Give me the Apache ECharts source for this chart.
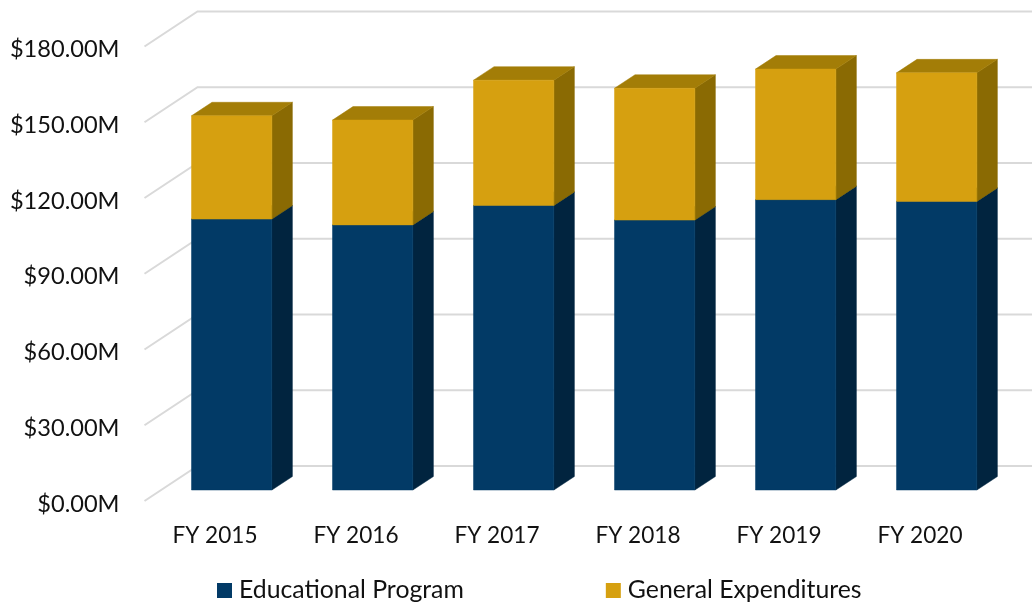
<!DOCTYPE html>
<html>
<head>
<meta charset="utf-8">
<style>
  html, body { margin: 0; padding: 0; background: #fff; }
  #chart { width: 1032px; height: 605px; }
</style>
<script src="https://cdn.jsdelivr.net/npm/echarts@6/dist/echarts.min.js"></script>
</head>
<body>
<div id="chart"></div>
<script>
const categories = ["FY 2015", "FY 2016", "FY 2017", "FY 2018", "FY 2019", "FY 2020"];
const educational = [107.3, 105.0, 112.7, 106.9, 115.0, 114.3];
const general = [40.9, 41.5, 49.6, 52.2, 51.7, 50.9];
const ticks = [0, 30, 60, 90, 120, 150, 180];

// fake 3d: how far the back wall and the bars sit behind the axis plane
const wallDx = 53, wallDy = 35;
const barDx = 16.7, barDy = 11;
const depthDx = 20.5, depthDy = 13.5;
const barRatio = 0.57;

function face(points, color) {
  return { type: "polygon", shape: { points: points }, style: { fill: color, stroke: color, lineWidth: 0.5 } };
}

function barItem(front, side, top) {
  return function (params, api) {
    let a = api.coord([api.value(0), api.value(1)]);
    let b = api.coord([api.value(0), api.value(2)]);
    let w = api.size([1, 0])[0] * barRatio;
    let x0 = a[0] - w / 2 + barDx, x1 = x0 + w;
    let y0 = a[1] - barDy, y1 = b[1] - barDy;
    return {
      type: "group",
      children: [
        face([[x1, y0], [x1 + depthDx, y0 - depthDy], [x1 + depthDx, y1 - depthDy], [x1, y1]], side),
        face([[x0, y1], [x1, y1], [x1 + depthDx, y1 - depthDy], [x0 + depthDx, y1 - depthDy]], top),
        face([[x0, y0], [x1, y0], [x1, y1], [x0, y1]], front)
      ]
    };
  };
}

function wallItem(params, api) {
  let p = api.coord([0, api.value(1)]);
  let left = params.coordSys.x, right = left + params.coordSys.width + wallDx;
  return {
    type: "polyline",
    shape: { points: [[left, p[1]], [left + wallDx, p[1] - wallDy], [right, p[1] - wallDy]] },
    style: { fill: "none", stroke: "#d9d9d9", lineWidth: 2 },
    silent: true
  };
}

let chart = echarts.init(document.getElementById("chart"));
let option = {
  animation: false,
  backgroundColor: "#fff",
  textStyle: { fontFamily: "Lato" },
  grid: { left: 144.5, right: 41.5, top: 46.5, bottom: 104 },
  legend: {
    left: 217,
    top: 578,
    padding: 0,
    itemWidth: 15,
    itemHeight: 15,
    itemGap: 142,
    icon: "rect",
    textStyle: { fontFamily: "Lato", fontSize: 24.8, color: "#111", padding: [0, 0, 0, 2] },
    data: ["Educational Program", "General Expenditures"]
  },
  xAxis: {
    type: "category",
    data: categories,
    axisLine: { show: false },
    axisTick: { show: false },
    axisLabel: { margin: 23, fontSize: 22.6, color: "#111", fontFamily: "Lato" }
  },
  yAxis: {
    type: "value",
    min: 0,
    max: 180,
    interval: 30,
    axisLine: { show: false },
    axisTick: { show: false },
    splitLine: { show: false },
    axisLabel: {
      margin: 25,
      fontSize: 23.6,
      color: "#111",
      fontFamily: "Lato",
      verticalAlign: "top",
      lineHeight: 6,
      formatter: function (v) { return "$" + v.toFixed(2) + "M"; }
    }
  },
  series: [
    {
      name: "wall",
      type: "custom",
      renderItem: wallItem,
      data: ticks.map(function (v) { return [0, v]; }),
      z: 1
    },
    {
      name: "Educational Program",
      type: "custom",
      renderItem: barItem("#023a66", "#01243f", "#012f52"),
      itemStyle: { color: "#023a66" },
      data: educational.map(function (v, i) { return [i, 0, v]; }),
      z: 2
    },
    {
      name: "General Expenditures",
      type: "custom",
      renderItem: barItem("#d6a010", "#8a6a03", "#a37d07"),
      itemStyle: { color: "#d6a010" },
      data: general.map(function (v, i) { return [i, educational[i], educational[i] + v]; }),
      z: 3
    }
  ]
};
chart.setOption(option);
window.addEventListener("resize", function () { chart.resize(); });
</script>
</body>
</html>
